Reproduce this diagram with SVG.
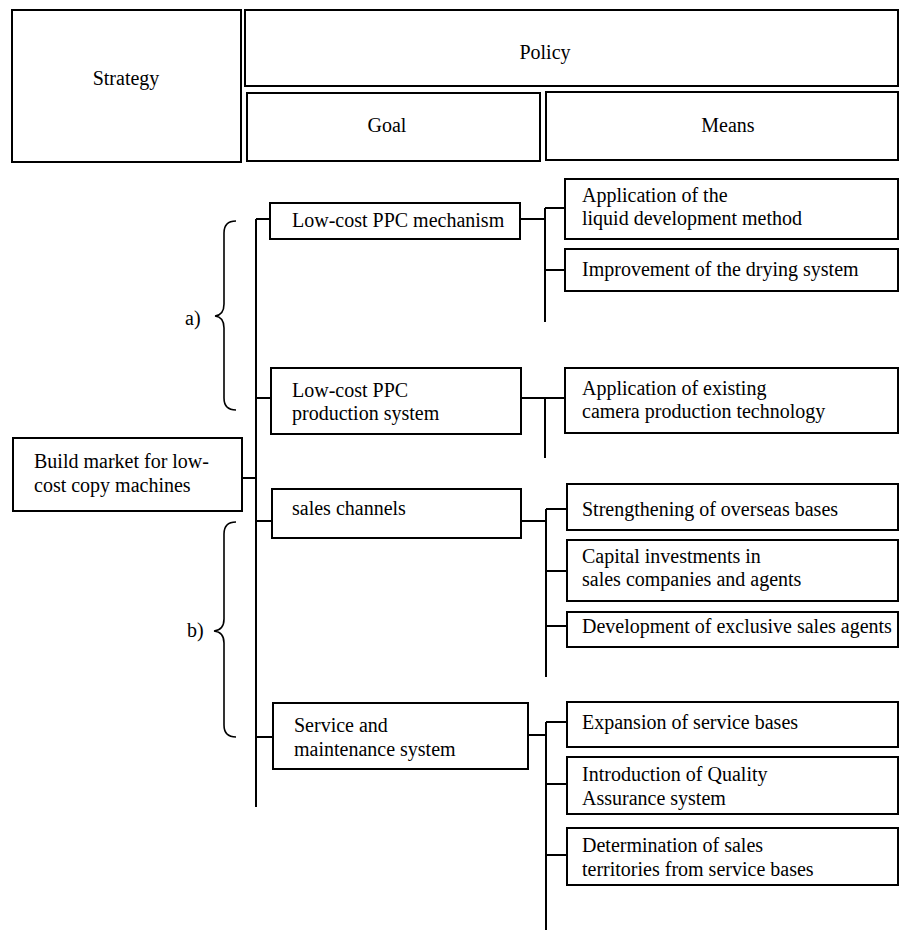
<svg xmlns="http://www.w3.org/2000/svg" width="901" height="931" viewBox="0 0 901 931">
<style>
.b{fill:#fff;stroke:#000;stroke-width:2}
.t{font-family:"Liberation Serif","Times New Roman",serif;font-size:20px;fill:#000}
.c{text-anchor:middle}
.l{fill:none;stroke:#000;stroke-width:2}
.br{fill:none;stroke:#000;stroke-width:1.6}
</style>
<rect width="901" height="931" fill="#fff"/>
<g id="hdr-strategy"><rect class="b" x="12" y="10" width="229" height="152"/><text class="t c" x="126" y="85">Strategy</text></g>
<g id="hdr-policy"><rect class="b" x="245" y="10" width="653" height="76"/><text class="t c" x="545" y="59">Policy</text></g>
<g id="hdr-goal"><rect class="b" x="247" y="93" width="293" height="68"/><text class="t c" x="387" y="132">Goal</text></g>
<g id="hdr-means"><rect class="b" x="546" y="92" width="352" height="68"/><text class="t c" x="728" y="132">Means</text></g>

<g id="connectors">
<path class="l" d="M256 219V807M256 219H270M256 398H271M242 478H256M256 521H272M256 737H273"/>
<path class="l" d="M520 219H545M545 208V322M545 208H565M545 270H565"/>
<path class="l" d="M521 398H565M545 398V458"/>
<path class="l" d="M521 521H546M546 509V677M546 509H567M546 571H567M546 626H567"/>
<path class="l" d="M528 735H546M546 722V930M546 722H567M546 784H567M546 855H567"/>
</g>

<g id="brace-a"><path class="br" d="M236 221Q224 221 224 233V304Q224 315 215 316Q224 317 224 328V398Q224 410 236 410"/><text class="t" x="185" y="325">a)</text></g>
<g id="brace-b"><path class="br" d="M236 522Q224 522 224 534V619Q224 630 214 631Q224 632 224 643V725Q224 737 236 737"/><text class="t" x="187" y="637">b)</text></g>

<g id="build"><rect class="b" x="13" y="438" width="229" height="73"/><text class="t" x="34" y="468">Build market for low-</text><text class="t" x="34" y="492">cost copy machines</text></g>

<g id="goal-mech"><rect class="b" x="270" y="203" width="250" height="36"/><text class="t" x="292" y="227">Low-cost PPC mechanism</text></g>
<g id="goal-prod"><rect class="b" x="271" y="368" width="250" height="66"/><text class="t" x="292" y="397">Low-cost PPC</text><text class="t" x="292" y="420">production system</text></g>
<g id="goal-sales"><rect class="b" x="272" y="489" width="249" height="49"/><text class="t" x="292" y="515">sales channels</text></g>
<g id="goal-service"><rect class="b" x="273" y="703" width="255" height="66"/><text class="t" x="294" y="732">Service and</text><text class="t" x="294" y="756">maintenance system</text></g>

<g id="m-liquid"><rect class="b" x="565" y="179" width="333" height="60"/><text class="t" x="582" y="202">Application of the</text><text class="t" x="582" y="225">liquid development method</text></g>
<g id="m-drying"><rect class="b" x="565" y="249" width="333" height="42"/><text class="t" x="582" y="276">Improvement of the drying system</text></g>
<g id="m-camera"><rect class="b" x="565" y="368" width="333" height="65"/><text class="t" x="582" y="395">Application of existing</text><text class="t" x="582" y="418">camera production technology</text></g>
<g id="m-overseas"><rect class="b" x="567" y="484" width="331" height="46"/><text class="t" x="582" y="516">Strengthening of overseas bases</text></g>
<g id="m-capital"><rect class="b" x="567" y="540" width="331" height="61"/><text class="t" x="582" y="563">Capital investments in</text><text class="t" x="582" y="586">sales companies and agents</text></g>
<g id="m-exclusive"><rect class="b" x="567" y="612" width="331" height="35"/><text class="t" x="582" y="633">Development of exclusive sales agents</text></g>
<g id="m-expansion"><rect class="b" x="567" y="702" width="331" height="45"/><text class="t" x="582" y="729">Expansion of service bases</text></g>
<g id="m-quality"><rect class="b" x="567" y="757" width="331" height="57"/><text class="t" x="582" y="781">Introduction of Quality</text><text class="t" x="582" y="805">Assurance system</text></g>
<g id="m-territories"><rect class="b" x="567" y="828" width="331" height="57"/><text class="t" x="582" y="852">Determination of sales</text><text class="t" x="582" y="876">territories from service bases</text></g>
</svg>
